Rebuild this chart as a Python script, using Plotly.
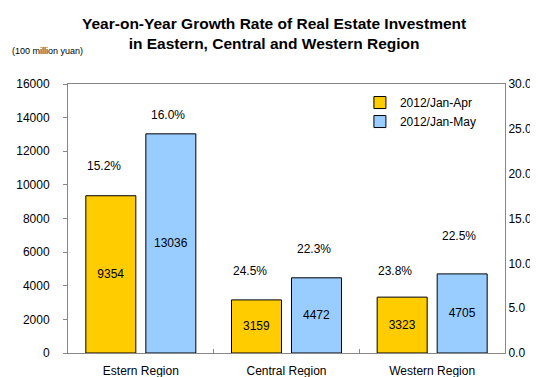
import plotly.graph_objects as go

regions = ["Estern Region", "Central Region", "Western Region"]
series_names = ["2012/Jan-Apr", "2012/Jan-May"]
invest_apr = [9354, 3159, 3323]
invest_may = [13036, 4472, 4705]
growth_apr = [15.2, 24.5, 23.8]
growth_may = [16.0, 22.3, 22.5]

colors = ["#FFCC00", "#99CCFF"]
FONT = "Liberation Sans, Arial, sans-serif"

fig = go.Figure()
for name, vals, col in zip(series_names, [invest_apr, invest_may], colors):
    fig.add_trace(go.Bar(
        x=regions, y=vals, name=name,
        marker=dict(color=col, line=dict(color="black", width=1)),
        text=[str(v) for v in vals], textposition="inside",
        insidetextanchor="middle", textangle=0,
        textfont=dict(family=FONT, size=12, color="black"),
        hoverinfo="skip",
    ))

# invisible trace to activate the secondary axis
fig.add_trace(go.Scatter(x=regions, y=growth_apr, yaxis="y2", mode="markers",
                         marker=dict(opacity=0), showlegend=False, hoverinfo="skip"))

# percentage labels above bars (manual offsets, as in the original)
shifts_apr = [30, 29, 26]
shifts_may = [19, 29, 38]
for i, r in enumerate(regions):
    fig.add_annotation(x=r, y=invest_apr[i], text=f"{growth_apr[i]:.1f}%",
                       showarrow=False, xshift=-37, yshift=shifts_apr[i],
                       font=dict(family=FONT, size=12, color="black"))
    fig.add_annotation(x=r, y=invest_may[i], text=f"{growth_may[i]:.1f}%",
                       showarrow=False, xshift=27, yshift=shifts_may[i],
                       font=dict(family=FONT, size=12, color="black"))

fig.add_annotation(xref="paper", yref="paper", x=-58/437, y=1 + 33/269,
                   xanchor="left", yanchor="middle", showarrow=False,
                   text="(100 million yuan)", font=dict(family=FONT, size=9, color="black"))

# title
fig.add_annotation(xref="paper", yref="paper", x=(266 - 60) / 437, y=1 + 71/269,
                   xanchor="center", yanchor="top", showarrow=False, align="center",
                   text="<b>Year-on-Year Growth Rate of Real Estate Investment<br>in Eastern, Central and Western Region</b>",
                   font=dict(family=FONT, size=15.5, color="black"))

fig.update_layout(
    width=538, height=377,
    margin=dict(l=60, r=41, t=76, b=32, autoexpand=False),
    paper_bgcolor="white", plot_bgcolor="white",
    font=dict(family=FONT, size=12, color="black"),
    barmode="group", bargap=0.176, bargroupgap=0.167,
    showlegend=True,
    legend=dict(x=0.668, y=0.985, xanchor="left", yanchor="top",
                bgcolor="rgba(0,0,0,0)", font=dict(family=FONT, size=12),
                itemwidth=30, tracegroupgap=0),
    xaxis=dict(showline=True, linecolor="#888888", linewidth=1, mirror=True,
               ticks="inside", ticklen=4, tickcolor="#888888", tickson="boundaries",
               showgrid=False, tickfont=dict(family=FONT, size=12), ticklabelstandoff=7,
               automargin=False),
    yaxis=dict(range=[0, 16000], dtick=2000, tickformat="d", showline=True, linecolor="#888888",
               ticks="outside", ticklen=4, tickcolor="#888888", showgrid=False,
               zeroline=False, tickfont=dict(family=FONT, size=12), ticklabelstandoff=11,
               automargin=False),
    yaxis2=dict(range=[0, 30], dtick=5, tickformat=".1f", overlaying="y", side="right",
                showline=True, linecolor="#888888", ticks="", showgrid=False,
                zeroline=False, tickfont=dict(family=FONT, size=12), ticklabelstandoff=0,
                automargin=False),
)

fig.write_html("out.html")
